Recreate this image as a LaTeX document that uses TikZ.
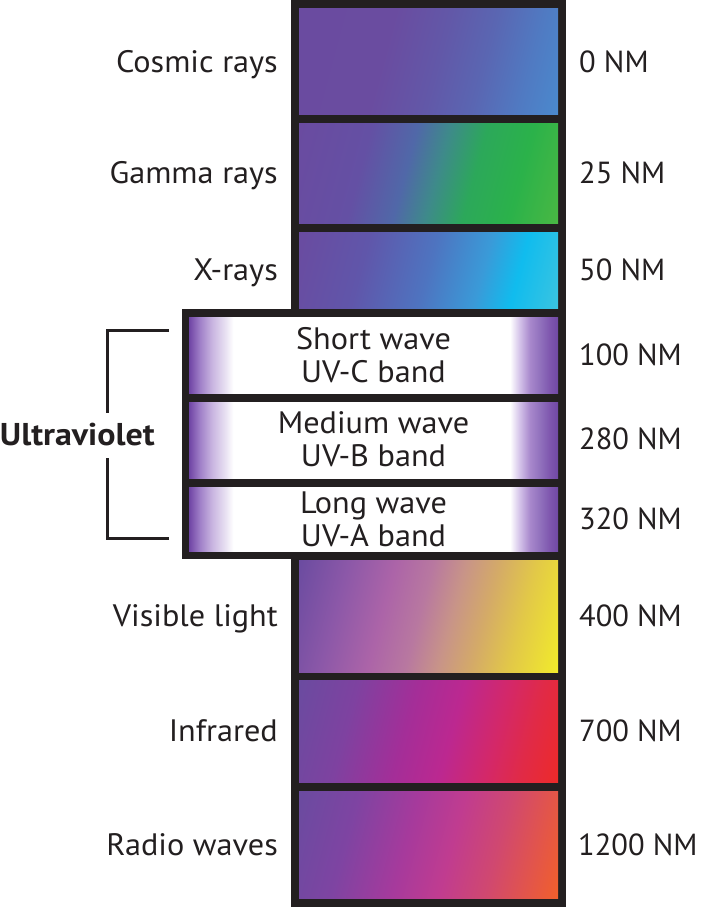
\documentclass[tikz,border=0pt]{standalone}
\usepackage{fontspec}
\setmainfont{PT Sans}[FakeStretch=1.04]
\newfontfamily\boldface{PT Sans Bold}[FakeStretch=1.08]
\newfontfamily\numface{PT Sans}
\definecolor{ink}{HTML}{231F20}
\definecolor{pu}{HTML}{6A4BA0}
\pgfdeclarehorizontalshading{cosmicsh}{100bp}{color(0bp)=(pu); color(19bp)=(pu); color(40bp)=({rgb,255:red,106;green,76;blue,160}); color(52bp)=({rgb,255:red,98;green,88;blue,168}); color(62bp)=({rgb,255:red,90;green,102;blue,178}); color(72bp)=({rgb,255:red,80;green,122;blue,194}); color(81bp)=({rgb,255:red,74;green,138;blue,206}); color(100bp)=({rgb,255:red,74;green,138;blue,206})}
\pgfdeclarehorizontalshading{gammash}{100bp}{color(0bp)=(pu); color(19bp)=(pu); color(35bp)=({rgb,255:red,100;green,80;blue,164}); color(45bp)=({rgb,255:red,80;green,104;blue,168}); color(52bp)=({rgb,255:red,62;green,138;blue,138}); color(60bp)=({rgb,255:red,44;green,168;blue,90}); color(70bp)=({rgb,255:red,43;green,178;blue,74}); color(81bp)=({rgb,255:red,74;green,184;blue,67}); color(100bp)=({rgb,255:red,74;green,184;blue,67})}
\pgfdeclarehorizontalshading{xraysh}{100bp}{color(0bp)=(pu); color(19bp)=(pu); color(35bp)=({rgb,255:red,96;green,86;blue,170}); color(50bp)=({rgb,255:red,78;green,116;blue,192}); color(62bp)=({rgb,255:red,58;green,154;blue,216}); color(70bp)=({rgb,255:red,16;green,188;blue,238}); color(81bp)=({rgb,255:red,60;green,196;blue,224}); color(100bp)=({rgb,255:red,60;green,196;blue,224})}
\pgfdeclarehorizontalshading{uvsh}{100bp}{color(0bp)=({rgb,255:red,110;green,68;blue,164}); color(25bp)=({rgb,255:red,110;green,68;blue,164}); color(25.5bp)=({rgb,255:red,128;green,88;blue,176}); color(26.5bp)=({rgb,255:red,160;green,128;blue,200}); color(28.1bp)=({rgb,255:red,200;green,180;blue,224}); color(29.9bp)=({rgb,255:red,232;green,224;blue,242}); color(31bp)=(white); color(68.5bp)=(white); color(69.85bp)=({rgb,255:red,210;green,192;blue,232}); color(71.2bp)=({rgb,255:red,168;green,136;blue,204}); color(72.6bp)=({rgb,255:red,144;green,112;blue,188}); color(73.9bp)=({rgb,255:red,126;green,86;blue,174}); color(75bp)=({rgb,255:red,112;green,72;blue,164}); color(100bp)=({rgb,255:red,112;green,72;blue,164})}
\pgfdeclarehorizontalshading{visiblesh}{100bp}{color(0bp)=(pu); color(19bp)=(pu); color(30bp)=({rgb,255:red,140;green,88;blue,168}); color(40bp)=({rgb,255:red,172;green,100;blue,168}); color(48bp)=({rgb,255:red,184;green,120;blue,160}); color(55bp)=({rgb,255:red,200;green,148;blue,136}); color(62bp)=({rgb,255:red,212;green,170;blue,104}); color(70bp)=({rgb,255:red,226;green,200;blue,72}); color(81bp)=({rgb,255:red,242;green,236;blue,42}); color(100bp)=({rgb,255:red,242;green,236;blue,42})}
\pgfdeclarehorizontalshading{infrash}{100bp}{color(0bp)=(pu); color(19bp)=(pu); color(32bp)=({rgb,255:red,126;green,66;blue,160}); color(45bp)=({rgb,255:red,164;green,46;blue,152}); color(55bp)=({rgb,255:red,188;green,40;blue,144}); color(65bp)=({rgb,255:red,212;green,40;blue,104}); color(72bp)=({rgb,255:red,224;green,42;blue,72}); color(81bp)=({rgb,255:red,238;green,42;blue,40}); color(100bp)=({rgb,255:red,238;green,42;blue,40})}
\pgfdeclarehorizontalshading{radiosh}{100bp}{color(0bp)=(pu); color(19bp)=(pu); color(32bp)=({rgb,255:red,126;green,68;blue,162}); color(45bp)=({rgb,255:red,166;green,58;blue,156}); color(55bp)=({rgb,255:red,192;green,60;blue,144}); color(65bp)=({rgb,255:red,208;green,72;blue,112}); color(81bp)=({rgb,255:red,242;green,96;blue,42}); color(100bp)=({rgb,255:red,242;green,96;blue,42})}
\begin{document}
\begin{tikzpicture}[x=1pt,y=-1pt,
  lab/.style={font=\fontsize{31}{34}\selectfont, text=ink, inner sep=0pt},
  numlab/.style={font=\fontsize{30.5}{34}\selectfont\numface, text=ink, inner sep=0pt},
  boldlab/.style={font=\fontsize{31.5}{34}\selectfont\boldface, text=ink, inner sep=0pt},
  band/.style={shading angle=-15},
  brk/.style={draw=ink, line width=3pt}]
\useasboundingbox (0,0) rectangle (701,907);
% frames
\fill[ink] (291,0) rectangle (566,907);
\fill[ink] (182,309) rectangle (566,559);
% bands
\shade[band, shading=cosmicsh] (299,9) rectangle (558,114);
\shade[band, shading=gammash] (299,123) rectangle (558,223);
\shade[band, shading=xraysh] (299,232) rectangle (558,308);
\shade[shading=uvsh] (189,317) rectangle (558,393);
\shade[shading=uvsh] (189,402) rectangle (558,478);
\shade[shading=uvsh] (189,487) rectangle (558,551);
\shade[band, shading=visiblesh] (299,560) rectangle (558,672);
\shade[band, shading=infrash] (299,680) rectangle (558,782);
\shade[band, shading=radiosh] (299,791) rectangle (558,898);
% left labels
\node[lab, anchor=base east] (l1) at (278,72) {Cosmic rays};
\node[lab, anchor=base east] (l2) at (278,183.5) {Gamma rays};
\node[lab, anchor=base east] (l3) at (278,280.5) {X-rays};
\node[lab, anchor=base east] (l4) at (278,626.5) {Visible light};
\node[lab, anchor=base east] (l5) at (278,741.5) {Infrared};
\node[lab, anchor=base east] (l6) at (278,855.5) {Radio waves};
% UV texts
\node[lab, anchor=base] (c1) at (373.5,349) {Short wave};
\node[lab, anchor=base] (c2) at (373.5,382) {UV-C band};
\node[lab, anchor=base] (b1) at (373.5,433) {Medium wave};
\node[lab, anchor=base] (b2) at (373.5,466) {UV-B band};
\node[lab, anchor=base] (a1) at (373.5,513) {Long wave};
\node[lab, anchor=base] (a2) at (373.5,546) {UV-A band};
% right labels
\node[numlab, anchor=base west] (r1) at (579,72) {0 NM};
\node[numlab, anchor=base west] (r2) at (579,183.5) {25 NM};
\node[numlab, anchor=base west] (r3) at (579,280.5) {50 NM};
\node[numlab, anchor=base west] (r4) at (579,365.5) {100 NM};
\node[numlab, anchor=base west] (r5) at (579,449) {280 NM};
\node[numlab, anchor=base west] (r6) at (579,529.5) {320 NM};
\node[numlab, anchor=base west] (r7) at (579,626.5) {400 NM};
\node[numlab, anchor=base west] (r8) at (579,741.5) {700 NM};
\node[numlab, anchor=base west] (r9) at (578,855.5) {1200 NM};
% bracket
\node[boldlab, anchor=base east] (uv) at (155,445.5) {Ultraviolet};
\coordinate (bt) at (169,330);
\coordinate (bb) at (169,538);
\draw[brk] (bt) -| (107,413);
\draw[brk] (bb) -| (107,458);
\end{tikzpicture}
\end{document}
